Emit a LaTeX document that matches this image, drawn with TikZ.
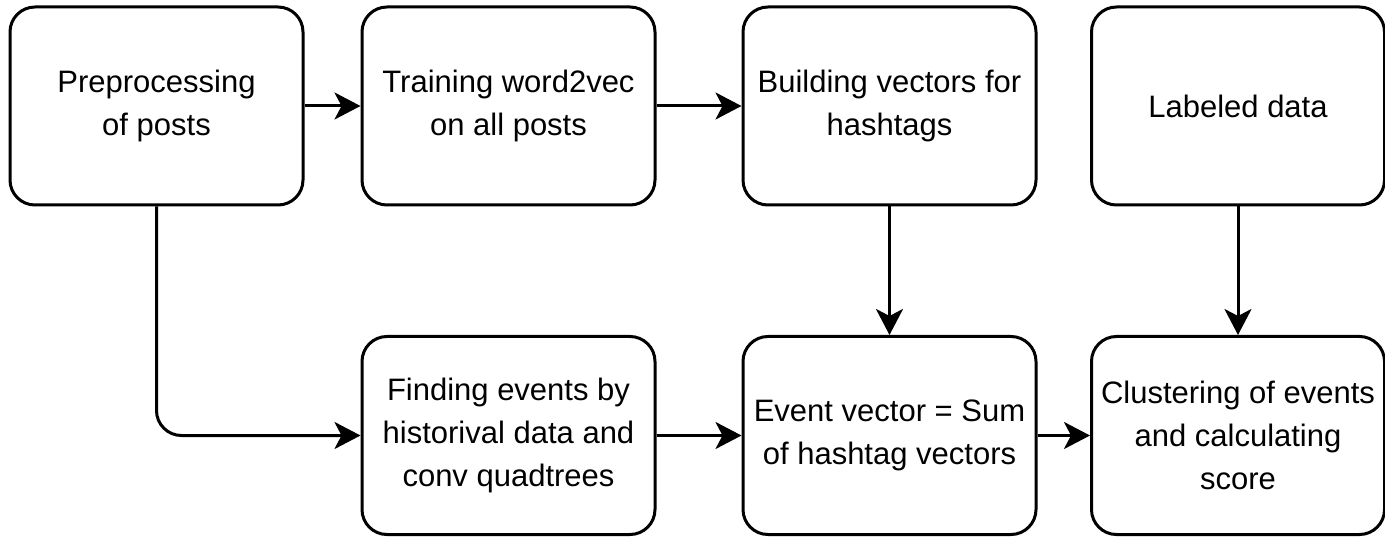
\documentclass[tikz,border=0pt]{standalone}
\usepackage{fontspec}
\setmainfont{Liberation Sans}
\usetikzlibrary{arrows.meta}
\begin{document}
\begin{tikzpicture}[x=1pt,y=-1pt,
  box/.style={draw, line width=3pt, rounded corners=25pt, minimum width=293pt, minimum height=198pt, inner sep=0pt, align=center, font=\fontsize{31pt}{43pt}\selectfont},
  arr/.style={line width=3pt, -{Stealth[length=26pt,width=27pt,inset=7pt]}}]
\useasboundingbox (0,0) rectangle (1385,537);
\node[box] (pre) at (156.5,106) {Preprocessing\\of posts};
\node[box] (w2v) at (508.5,106) {Training word2vec\\on all posts};
\node[box] (bvh) at (889.5,106) {Building vectors for\\hashtags};
\node[box] (lab) at (1238,106) {Labeled data};
\node[box] (fin) at (508.5,435.5) {Finding events by\\historival data and\\conv quadtrees};
\node[box] (evv) at (889.5,435.5) {Event vector = Sum\\of hashtag vectors};
\node[box] (clu) at (1238,435.5) {Clustering of events\\and calculating\\score};
\draw[arr] (pre) -- (w2v);
\draw[arr] (w2v) -- (bvh);
\draw[arr] (bvh) -- (evv);
\draw[arr] (lab) -- (clu);
\draw[arr] (fin) -- (evv);
\draw[arr] (evv) -- (clu);
\draw[arr, rounded corners=25pt] (pre.south) |- (fin.west);
\end{tikzpicture}
\end{document}
